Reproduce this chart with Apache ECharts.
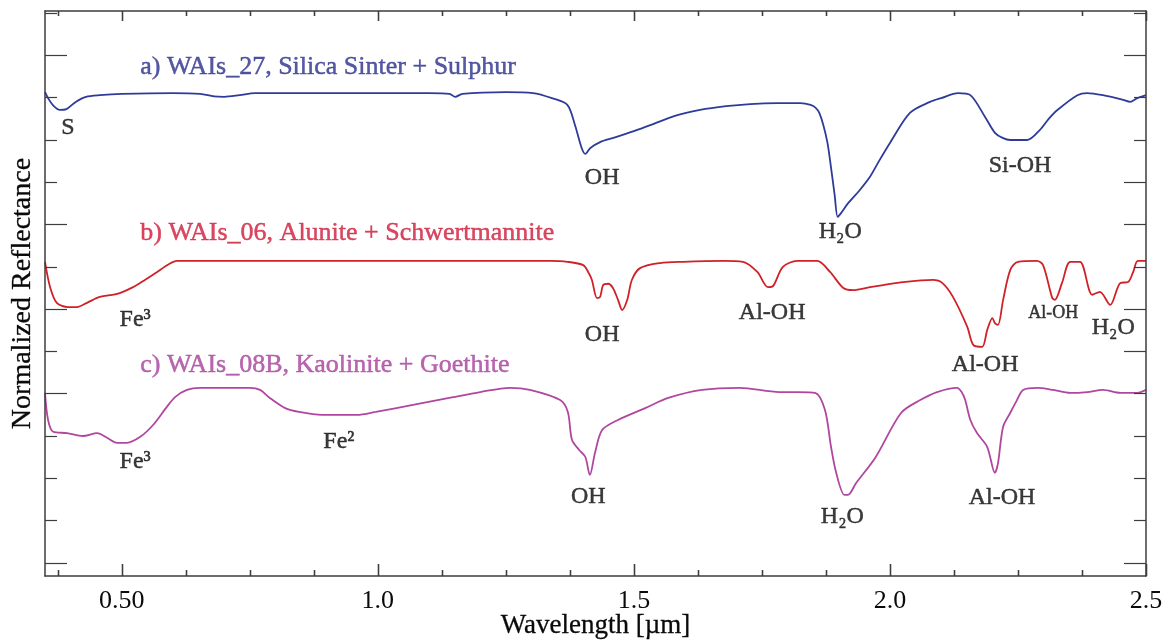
<!DOCTYPE html>
<html>
<head>
<meta charset="utf-8">
<script src="https://cdn.jsdelivr.net/npm/echarts@6/dist/echarts.min.js"></script>
<style>
  html, body { margin: 0; padding: 0; background: #ffffff; }
  #chart { width: 1169px; height: 640px; }
</style>
</head>
<body>
<div id="chart"></div>
<script>
// Wavelength axis (µm)
const wavelengthMajorTicks = [0.5, 1.0, 1.5, 2.0, 2.5];
const wavelengthMinorTicks = [0.375, 0.625, 0.75, 0.875, 1.125, 1.25, 1.375, 1.625, 1.75, 1.875, 2.125, 2.25, 2.375];
const wavelengthTickLabels = ['0.50', '1.0', '1.5', '2.0', '2.5'];

// Reflectance axis ticks (offset, stacked spectra)
const leftLongTicks = [0, 0.4, 0.6, 0.8, 1.2];
const leftShortTicks = [0.1, 0.2, 0.3, 0.5, 0.7, 0.9, 1.0, 1.1, 1.3];
const rightLongTicks = [0, 0.5, 0.6, 0.8, 0.9, 1.2];
const rightShortTicks = [0.1, 0.2, 0.3, 0.4, 0.7, 1.0, 1.1, 1.3];

// a) WAIs_27, Silica Sinter + Sulphur  [wavelength µm, normalized reflectance + offset]
const spectrumA = [
  [0.350, 1.113], [0.356, 1.099], [0.365, 1.083], [0.379, 1.071], [0.392, 1.073], [0.410, 1.090],
  [0.430, 1.102], [0.457, 1.106], [0.500, 1.109], [0.600, 1.111], [0.653, 1.109], [0.680, 1.103],
  [0.700, 1.102], [0.730, 1.106], [0.760, 1.111], [0.900, 1.111], [1.000, 1.111], [1.100, 1.111],
  [1.140, 1.109], [1.151, 1.102], [1.165, 1.109], [1.250, 1.113], [1.303, 1.111], [1.340, 1.099],
  [1.370, 1.083], [1.385, 1.035], [1.398, 0.981], [1.405, 0.967], [1.415, 0.981], [1.434, 0.995],
  [1.460, 1.005], [1.500, 1.021], [1.532, 1.035], [1.580, 1.057], [1.629, 1.071], [1.680, 1.080],
  [1.727, 1.085], [1.780, 1.087], [1.825, 1.087], [1.845, 1.083], [1.855, 1.076], [1.862, 1.064],
  [1.870, 1.035], [1.878, 0.993], [1.885, 0.934], [1.892, 0.870], [1.898, 0.818], [1.905, 0.828],
  [1.918, 0.850], [1.940, 0.880], [1.961, 0.913], [1.980, 0.953], [2.000, 0.993], [2.039, 1.064],
  [2.078, 1.090], [2.100, 1.099], [2.133, 1.111], [2.157, 1.106], [2.186, 1.054], [2.205, 1.017],
  [2.220, 1.005], [2.235, 1.000], [2.268, 1.000], [2.293, 1.024], [2.310, 1.050], [2.327, 1.071],
  [2.366, 1.106], [2.385, 1.111], [2.416, 1.106], [2.455, 1.095], [2.469, 1.090], [2.483, 1.099],
  [2.500, 1.106]
];

// b) WAIs_06, Alunite + Schwertmannite
const spectrumB = [
  [0.350, 0.712], [0.360, 0.652], [0.373, 0.615], [0.395, 0.605], [0.4125, 0.605], [0.432, 0.615],
  [0.457, 0.629], [0.491, 0.636], [0.522, 0.652], [0.545, 0.669], [0.569, 0.688], [0.590, 0.705],
  [0.608, 0.714], [0.800, 0.714], [1.000, 0.714], [1.200, 0.714], [1.336, 0.714], [1.370, 0.712],
  [1.401, 0.704], [1.412, 0.685], [1.418, 0.669], [1.428, 0.626], [1.434, 0.629], [1.440, 0.657],
  [1.450, 0.660], [1.459, 0.650], [1.469, 0.622], [1.477, 0.598], [1.487, 0.622], [1.496, 0.669],
  [1.512, 0.697], [1.551, 0.709], [1.596, 0.712], [1.674, 0.714], [1.713, 0.712], [1.741, 0.688],
  [1.762, 0.652], [1.772, 0.655], [1.791, 0.700], [1.819, 0.714], [1.858, 0.714], [1.883, 0.688],
  [1.909, 0.650], [1.928, 0.645], [1.961, 0.652], [1.987, 0.657], [2.026, 0.664], [2.084, 0.669],
  [2.102, 0.662], [2.123, 0.629], [2.151, 0.558], [2.163, 0.515], [2.180, 0.511], [2.190, 0.551],
  [2.200, 0.579], [2.205, 0.567], [2.211, 0.563], [2.221, 0.622], [2.235, 0.693], [2.250, 0.712],
  [2.287, 0.714], [2.299, 0.704], [2.317, 0.626], [2.322, 0.622], [2.336, 0.662], [2.352, 0.712],
  [2.371, 0.712], [2.395, 0.634], [2.410, 0.641], [2.430, 0.610], [2.450, 0.662], [2.465, 0.664],
  [2.475, 0.688], [2.484, 0.714], [2.500, 0.714]
];

// c) WAIs_08B, Kaolinite + Goethite
const spectrumC = [
  [0.350, 0.402], [0.356, 0.338], [0.366, 0.310], [0.393, 0.307], [0.424, 0.300], [0.452, 0.307],
  [0.471, 0.296], [0.491, 0.284], [0.510, 0.284], [0.536, 0.298], [0.561, 0.326], [0.588, 0.369],
  [0.604, 0.392], [0.627, 0.409], [0.653, 0.414], [0.750, 0.414], [0.770, 0.409], [0.789, 0.390],
  [0.819, 0.366], [0.846, 0.357], [0.891, 0.350], [0.959, 0.350], [0.996, 0.357], [1.071, 0.374],
  [1.147, 0.392], [1.200, 0.404], [1.258, 0.414], [1.297, 0.409], [1.356, 0.385], [1.371, 0.357],
  [1.379, 0.291], [1.393, 0.267], [1.405, 0.251], [1.414, 0.208], [1.424, 0.260], [1.438, 0.314],
  [1.469, 0.338], [1.522, 0.366], [1.567, 0.390], [1.633, 0.409], [1.707, 0.414], [1.784, 0.404],
  [1.821, 0.404], [1.854, 0.402], [1.873, 0.362], [1.885, 0.274], [1.895, 0.213], [1.911, 0.161],
  [1.918, 0.161], [1.934, 0.189], [1.971, 0.248], [2.022, 0.355], [2.059, 0.385], [2.092, 0.404],
  [2.131, 0.414], [2.141, 0.402], [2.147, 0.385], [2.157, 0.338], [2.170, 0.307], [2.190, 0.274],
  [2.205, 0.213], [2.211, 0.236], [2.221, 0.322], [2.235, 0.355], [2.248, 0.385], [2.260, 0.409],
  [2.288, 0.414], [2.319, 0.409], [2.352, 0.402], [2.385, 0.404], [2.416, 0.409], [2.450, 0.402],
  [2.483, 0.402], [2.500, 0.409]
];

// Sample titles: [wavelength, reflectance, text]
const sampleTitles = [
  [0.536, 1.173, 'a) WAIs_27, Silica Sinter + Sulphur'],
  [0.536, 0.780, 'b) WAIs_06, Alunite + Schwertmannite'],
  [0.536, 0.468, 'c) WAIs_08B, Kaolinite + Goethite']
];
const titleColors = ['#2a2f8c', '#cf1a3a', '#a6419b'];

// Absorption feature labels: [wavelength, reflectance, text]
const featureLabels = [
  [0.395, 1.028, 'S'],
  [1.438, 0.910, 'OH'],
  [1.903, 0.783, 'H₂O'],
  [2.254, 0.939, 'Si-OH'],
  [0.526, 0.574, 'Fe³'],
  [1.438, 0.539, 'OH'],
  [1.770, 0.591, 'Al-OH'],
  [2.186, 0.468, 'Al-OH'],
  [2.436, 0.556, 'H₂O'],
  [0.526, 0.239, 'Fe³'],
  [0.924, 0.286, 'Fe²'],
  [1.411, 0.156, 'OH'],
  [1.907, 0.109, 'H₂O'],
  [2.219, 0.154, 'Al-OH']
];
const smallFeatureLabels = [
  [2.319, 0.591, 'Al-OH']
];

const serif = "'Liberation Serif', 'DejaVu Serif', 'Times New Roman', serif";
const frameColor = '#3d3d3d';
const inkColor = '#0a0a0a';
const X_MIN = 0.35, X_MAX = 2.5, Y_MIN = -0.031, Y_MAX = 1.305;
const plotRect = { left: 45, right: 23, top: 11, bottom: 64, containLabel: false, outerBoundsMode: 'none' };

function xAxisDef(gridIndex, position, ticks, tickLen, showLine, withLabels) {
  return {
    gridIndex: gridIndex, type: 'value', min: X_MIN, max: X_MAX, position: position, z: 10,
    axisLine: { show: showLine, onZero: false, lineStyle: { color: frameColor, width: 1.5 } },
    axisTick: { show: true, inside: true, length: tickLen, customValues: ticks,
                lineStyle: { color: frameColor, width: 1.2 } },
    axisLabel: {
      show: true, customValues: wavelengthMajorTicks, margin: 12,
      fontFamily: serif, fontSize: 26, color: withLabels ? inkColor : 'rgba(0,0,0,0)',
      formatter: v => withLabels ? wavelengthTickLabels[wavelengthMajorTicks.indexOf(Math.round(v * 10) / 10)] : ''
    },
    splitLine: { show: false }
  };
}

function yAxisDef(gridIndex, position, ticks, tickLen, showLine) {
  return {
    gridIndex: gridIndex, type: 'value', min: Y_MIN, max: Y_MAX, position: position, z: 10,
    axisLine: { show: showLine, onZero: false, lineStyle: { color: frameColor, width: 1.5 } },
    axisTick: { show: true, inside: true, length: tickLen, customValues: ticks,
                lineStyle: { color: frameColor, width: 1.2 } },
    axisLabel: { show: false },
    splitLine: { show: false }
  };
}

// Four overlapping grids share one plot rectangle: each carries one tick set of the frame.
const grids = [0, 1, 2, 3].map(() => Object.assign({}, plotRect));

const xAxes = [
  xAxisDef(0, 'bottom', wavelengthMajorTicks, 12, true, true),
  xAxisDef(1, 'bottom', wavelengthMinorTicks, 6, false, false),
  xAxisDef(2, 'top', wavelengthMajorTicks, 10, true, false),
  xAxisDef(3, 'top', wavelengthMinorTicks, 5, false, false)
];
Object.assign(xAxes[0], {
  name: 'Wavelength [µm]', nameLocation: 'middle', nameGap: 36, nameMoveOverlap: false,
  nameTextStyle: { fontFamily: serif, fontSize: 27, color: inkColor,
                   textBorderColor: inkColor, textBorderWidth: 0.3 }
});

const yAxes = [
  yAxisDef(0, 'left', leftLongTicks, 22, true),
  yAxisDef(1, 'left', leftShortTicks, 12, false),
  yAxisDef(2, 'right', rightLongTicks, 22, true),
  yAxisDef(3, 'right', rightShortTicks, 12, false)
];
Object.assign(yAxes[0], {
  name: 'Normalized Reflectance', nameLocation: 'middle', nameGap: 8, nameMoveOverlap: false,
  nameTextStyle: { fontFamily: serif, fontSize: 28, color: inkColor,
                   textBorderColor: inkColor, textBorderWidth: 0.3 }
});

function spectrumSeries(data, color) {
  return {
    type: 'line', xAxisIndex: 0, yAxisIndex: 0, data: data, showSymbol: false,
    smooth: 0.3, silent: true, lineStyle: { color: color, width: 1.8 }
  };
}

function labelSeries(data, fontSize, colorFn, align) {
  return {
    type: 'scatter', xAxisIndex: 0, yAxisIndex: 0, symbolSize: 0, silent: true,
    itemStyle: { color: 'transparent' },
    data: data.map((d, i) => ({
      value: d,
      label: {
        show: true, position: 'inside', formatter: d[2],
        align: align, verticalAlign: 'middle',
        fontFamily: serif, fontSize: fontSize, color: colorFn(i),
        textBorderColor: colorFn(i), textBorderWidth: 0.45
      }
    }))
  };
}

const chart = echarts.init(document.getElementById('chart'));
chart.setOption({
  animation: false,
  backgroundColor: '#ffffff',
  grid: grids,
  xAxis: xAxes,
  yAxis: yAxes,
  series: [
    spectrumSeries(spectrumA, '#2e3b98'),
    spectrumSeries(spectrumB, '#cf2127'),
    spectrumSeries(spectrumC, '#b0479f'),
    labelSeries(sampleTitles, 26, i => titleColors[i], 'left'),
    labelSeries(featureLabels, 24, () => inkColor, 'center'),
    labelSeries(smallFeatureLabels, 18, () => inkColor, 'center')
  ]
});

// Wavelength tick marks on the bottom and top edges, placed through the axis scale.
function edgeTicks(values, pixelLength, fromTop) {
  return values.map(v => {
    const p = chart.convertToPixel({ gridIndex: 0 }, [v, fromTop ? Y_MAX : Y_MIN]);
    const x = Math.round(p[0]) + 0.5;
    const y1 = p[1];
    const y2 = fromTop ? y1 + pixelLength : y1 - pixelLength;
    return {
      type: 'line', z: 100, silent: true,
      shape: { x1: x, y1: y1, x2: x, y2: y2 },
      style: { stroke: frameColor, lineWidth: 1.4 }
    };
  });
}
chart.setOption({
  graphic: [].concat(
    edgeTicks(wavelengthMajorTicks, 12, false),
    edgeTicks(wavelengthMinorTicks, 6, false),
    edgeTicks(wavelengthMajorTicks, 10, true),
    edgeTicks(wavelengthMinorTicks, 5, true)
  )
});
</script>
</body>
</html>
